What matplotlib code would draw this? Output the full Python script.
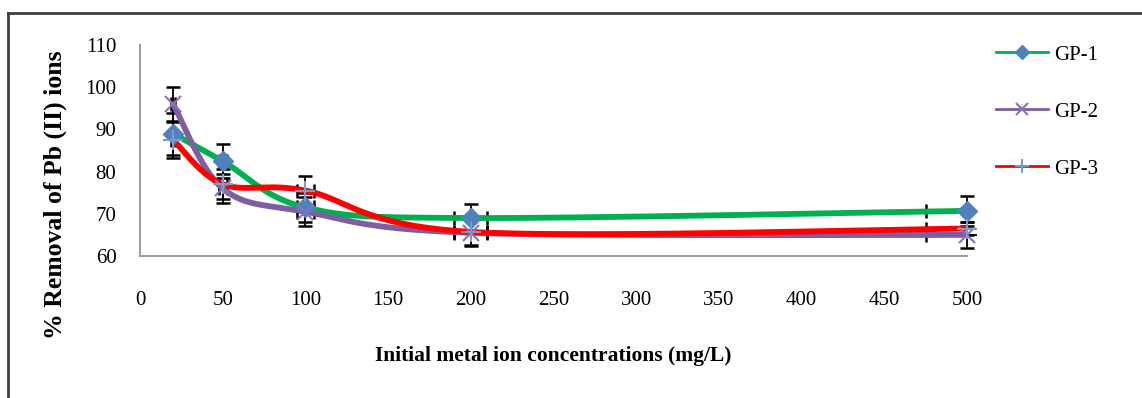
import numpy as np
import matplotlib.pyplot as plt
from matplotlib.lines import Line2D
from matplotlib.patches import Rectangle

# ---- data: % removal of Pb(II) vs initial concentration ----
conc = [20, 50, 100, 200, 500]
gp1 = [89.0, 82.5, 71.5, 69.0, 70.7]
gp2 = [96.0, 76.0, 70.5, 65.5, 65.0]
gp3 = [87.5, 77.0, 75.5, 65.7, 66.5]
gp1_err = [5.0, 4.0, 3.5, 3.3, 3.5]
gp2_err = [4.0, 3.5, 3.5, 3.0, 3.0]
gp3_err = [4.3, 3.5, 3.5, 3.3, 1.5]
labels = ['GP-1', 'GP-2', 'GP-3']
x_ticks = list(range(0, 501, 50))
y_ticks = list(range(60, 111, 10))

plt.rcParams['font.family'] = ['Liberation Serif', 'DejaVu Serif']

W, H = 1142, 398
fig = plt.figure(figsize=(W / 100, H / 100), dpi=100)
ax = fig.add_axes([140 / W, 1 - 256 / H, (967 - 140) / W, (256 - 45) / H])
ax.set_xlim(0, 500)
ax.set_ylim(60, 110)


def smooth(xs, ys, sx, sy, n=40):
    """Bezier smoothing through the points (control points at 1/6 of the
    neighbour chord), done in screen-like units so it looks even."""
    p = np.column_stack([np.asarray(xs) * sx, np.asarray(ys) * sy])
    out = []
    for i in range(len(p) - 1):
        p0 = p[i - 1] if i > 0 else p[i]
        p1, p2 = p[i], p[i + 1]
        p3 = p[i + 2] if i + 2 < len(p) else p[i + 1]
        c1 = p1 + (p2 - p0) / 6
        c2 = p2 - (p3 - p1) / 6
        t = np.linspace(0, 1, n)[:, None]
        seg = ((1 - t) ** 3 * p1 + 3 * (1 - t) ** 2 * t * c1
               + 3 * (1 - t) * t ** 2 * c2 + t ** 3 * p2)
        out.append(seg if i == 0 else seg[1:])
    out = np.vstack(out)
    return out[:, 0] / sx, out[:, 1] / sy


sx = 827 / 500   # px per x unit
sy = 211 / 50    # px per y unit

series = [
    (gp1, gp1_err, '#00B050', 'D', '#4F81BD', 10, 1.0),
    (gp2, gp2_err, '#7D5FA0', 'x', '#8A70B8', 12, 1.5),
    (gp3, gp3_err, '#FF0000', '+', '#7B9CCB', 14, 1.5),
]

# error bars clipped a little past the right end of the axis
clip_box = Rectangle((0, 0), 1.012, 1, transform=ax.transAxes, visible=False)
ax.add_patch(clip_box)

handles = []
for (ys, err, lc, mk, mc, ms, mew), lab in zip(series, labels):
    xs_s, ys_s = smooth(conc, ys, sx, sy)
    ax.plot(xs_s, ys_s, color=lc, lw=4.2, solid_capstyle='round', zorder=2)
    xerr = [0.05 * c for c in conc]
    eb = ax.errorbar(conc, ys, yerr=err, xerr=xerr, fmt='none', ecolor='black',
                     elinewidth=1.3, capsize=5, capthick=1.8, zorder=1.5)
    for art in list(eb[1]) + list(eb[2]):
        art.set_clip_path(clip_box)
    ax.plot(conc, ys, ls='none', marker=mk, ms=ms, color=mc, mec=mc,
            mew=mew, clip_on=False, zorder=4)
    handles.append(Line2D([], [], color=lc, lw=2, marker=mk, ms=ms * 0.7,
                          mfc=mc, mec=mc, mew=mew))

for side in ['top', 'right']:
    ax.spines[side].set_visible(False)
for side in ['left', 'bottom']:
    ax.spines[side].set_color('#A0A0A0')
    ax.spines[side].set_linewidth(1.5)

ax.set_xticks(x_ticks)
ax.set_yticks(y_ticks)
ax.tick_params(length=0, labelsize=15)
ax.tick_params(axis='y', pad=17)
ax.tick_params(axis='x', pad=25)
ax.set_xlabel('Initial metal ion concentrations (mg/L)', fontsize=15.5,
              fontweight='bold', labelpad=26)
fig.text(55 / W, 1 - 195 / H, '% Removal of Pb (II) ions', rotation=90,
         fontsize=18.5, fontweight='bold', ha='center', va='center')

fig.legend(handles, labels, loc='upper left',
           bbox_to_anchor=(996 / W, 1 - 45 / H), frameon=False, fontsize=15,
           handlelength=2.5, handletextpad=0.3, labelspacing=1.8,
           borderpad=0, borderaxespad=0)

# outer chart frame (top and left edges)
fig.add_artist(Line2D([8 / W, 1], [1 - 13 / H, 1 - 13 / H],
                      transform=fig.transFigure, color='#404040', lw=2))
fig.add_artist(Line2D([8 / W, 8 / W], [0, 1 - 13 / H],
                      transform=fig.transFigure, color='#404040', lw=2))

fig.savefig('out.png', dpi=100)
